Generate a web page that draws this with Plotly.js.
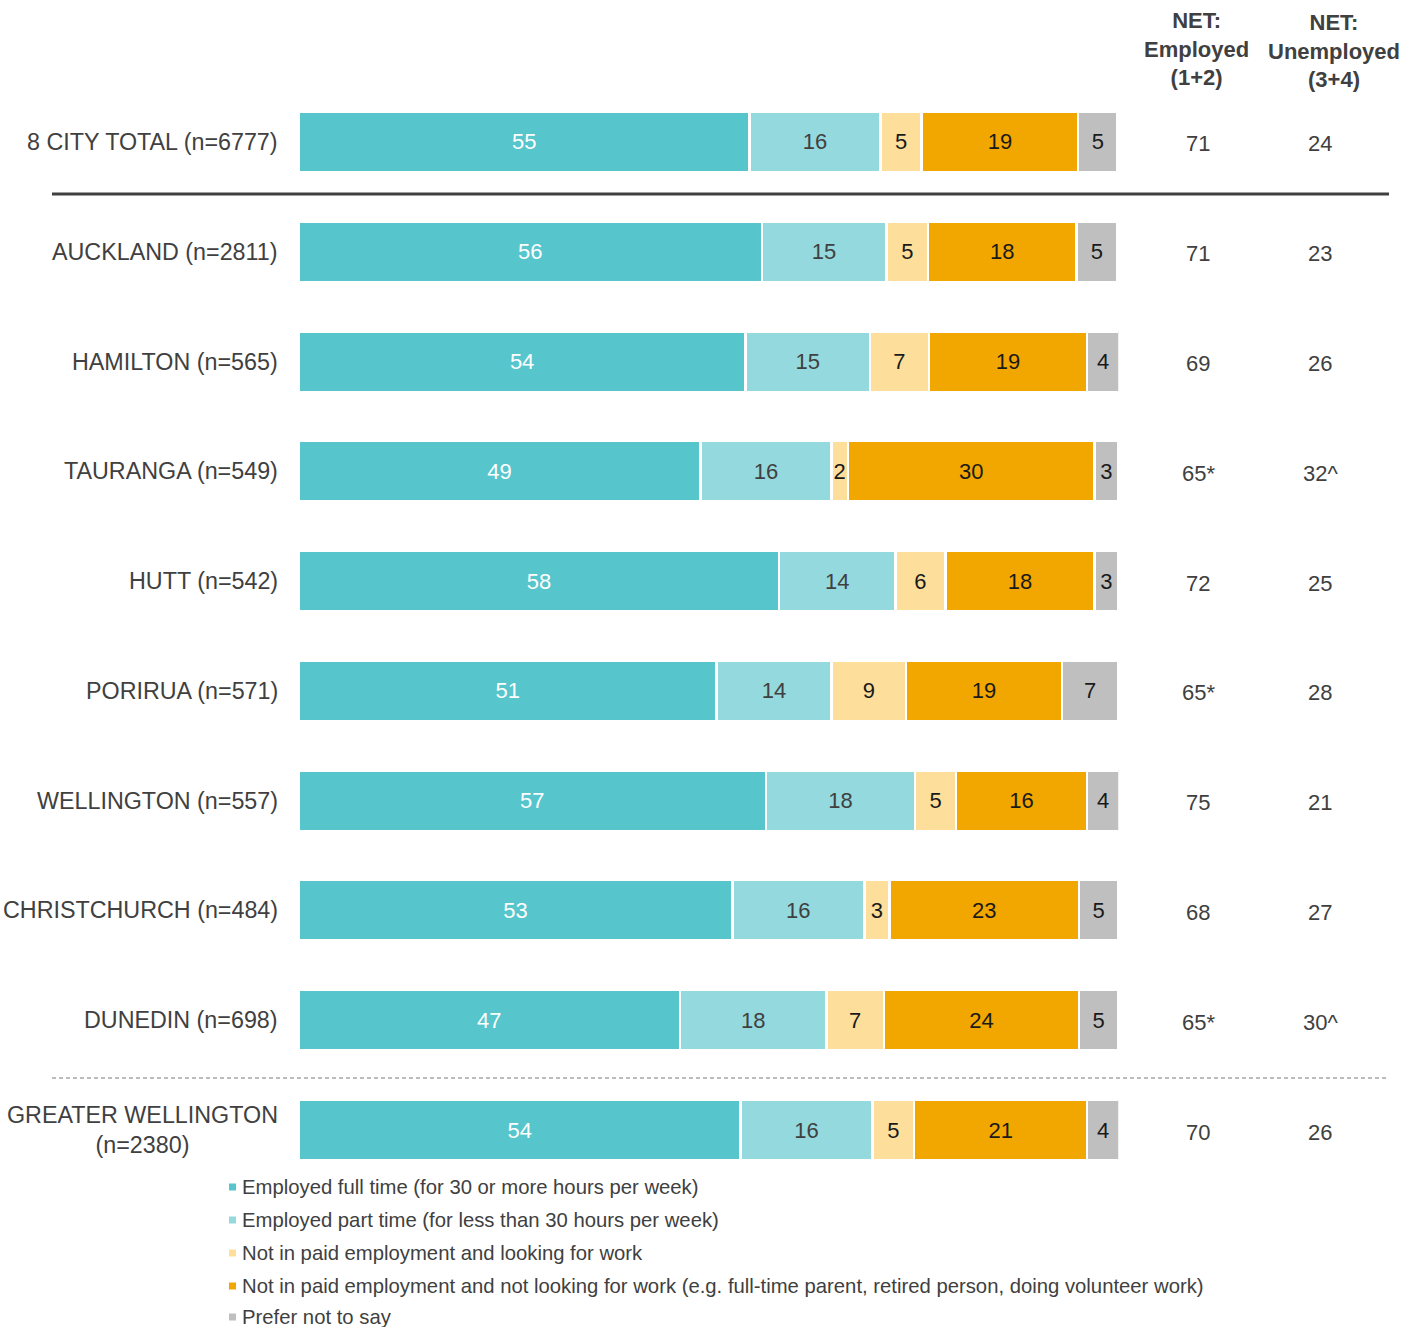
<!DOCTYPE html>
<html><head><meta charset="utf-8">
<script src="https://cdn.plot.ly/plotly-3.0.1.min.js"></script>
<style>html,body{margin:0;padding:0;background:#fff}</style>
</head><body><div id="chart" style="width:1419px;height:1327px"></div>
<script>
const categories = ['8 CITY TOTAL','AUCKLAND','HAMILTON','TAURANGA','HUTT','PORIRUA','WELLINGTON','CHRISTCHURCH','DUNEDIN','GREATER WELLINGTON'];
const categoryLabels = ['8 CITY TOTAL (n=6777)','AUCKLAND (n=2811)','HAMILTON (n=565)','TAURANGA (n=549)','HUTT (n=542)','PORIRUA (n=571)','WELLINGTON (n=557)','CHRISTCHURCH (n=484)','DUNEDIN (n=698)','GREATER WELLINGTON<br>(n=2380)'];
const seriesNames = ['Employed full time (for 30 or more hours per week)','Employed part time (for less than 30 hours per week)','Not in paid employment and looking for work','Not in paid employment and not looking for work (e.g. full-time parent, retired person, doing volunteer work)','Prefer not to say'];
const fullTime   = [55.0,56.5,54.5,49.0,58.6,51.0,57.0,52.9,46.5,53.9];
const partTime   = [16.0,15.2,15.2,16.0,14.2,14.0,18.2,16.1,17.9,16.1];
const looking    = [5.0,5.1,7.2,2.0,6.1,9.1,5.0,3.1,7.0,5.1];
const notLooking = [19.1,18.1,19.3,30.1,18.2,19.0,16.0,23.1,23.8,21.1];
const preferNot  = [4.8,5.0,3.9,2.9,2.9,6.9,3.9,4.8,4.8,3.9];
const fullTimeLabels   = [55,56,54,49,58,51,57,53,47,54];
const partTimeLabels   = [16,15,15,16,14,14,18,16,18,16];
const lookingLabels    = [5,5,7,2,6,9,5,3,7,5];
const notLookingLabels = [19,18,19,30,18,19,16,23,24,21];
const preferNotLabels  = [5,5,4,3,3,7,4,5,5,4];
const netEmployed   = ['71','71','69','65*','72','65*','75','68','65*','70'];
const netUnemployed = ['24','23','26','32^','25','28','21','27','30^','26'];
const netHeaders = ['NET:<br>Employed<br>(1+2)','NET:<br>Unemployed<br>(3+4)'];

const FONT = 'Liberation Sans, Arial, sans-serif';
const colors = ['#56C5CC','#94D9DE','#FDDF9B','#F1A600','#BFBFBF'];
const textColors = ['#ffffff','#404040','#1a1a1a','#1a1a1a','#1a1a1a'];
const seriesValues = [fullTime, partTime, looking, notLooking, preferNot];
const seriesLabels = [fullTimeLabels, partTimeLabels, lookingLabels, notLookingLabels, preferNotLabels];

const W = 1419, H = 1327;
const px = x => x / W;
const py = y => 1 - y / H;

const traces = seriesValues.map((vals, i) => ({
  type: 'bar', orientation: 'h', name: seriesNames[i],
  y: categories, x: vals,
  text: seriesLabels[i].map(String),
  texttemplate: '%{text}',
  textposition: 'inside', insidetextanchor: 'middle', constraintext: 'none',
  insidetextfont: {family: FONT, size: 22, color: textColors[i]},
  marker: {color: colors[i], line: {color: '#ffffff', width: 2.5}},
  hoverinfo: 'skip', showlegend: false
}));

const annotations = [];
categories.forEach((c, i) => {
  annotations.push({xref: 'paper', yref: 'y', x: px(280), y: c, xanchor: 'right', yanchor: 'middle', align: 'center',
    text: categoryLabels[i], showarrow: false, font: {family: FONT, size: 23.3, color: '#404040'}});
  annotations.push({xref: 'paper', yref: 'y', x: px(1198), y: c, xanchor: 'center', yanchor: 'middle',
    text: netEmployed[i], showarrow: false, font: {family: FONT, size: 22, color: '#404040'}, yshift: -2});
  annotations.push({xref: 'paper', yref: 'y', x: px(1320), y: c, xanchor: 'center', yanchor: 'middle',
    text: netUnemployed[i], showarrow: false, font: {family: FONT, size: 22, color: '#404040'}, yshift: -2});
});
annotations.push({xref: 'paper', yref: 'paper', x: px(1196), y: py(49), xanchor: 'center', yanchor: 'middle', align: 'center',
  text: '<b>' + netHeaders[0].split('<br>').join('</b><br><b>') + '</b>', showarrow: false, font: {family: FONT, size: 22, color: '#404040'}});
annotations.push({xref: 'paper', yref: 'paper', x: px(1334), y: py(51), xanchor: 'center', yanchor: 'middle', align: 'center',
  text: '<b>' + netHeaders[1].split('<br>').join('</b><br><b>') + '</b>', showarrow: false, font: {family: FONT, size: 22, color: '#404040'}});

const shapes = [
  {type: 'line', xref: 'paper', yref: 'paper', x0: px(52), x1: px(1389), y0: py(194), y1: py(194), line: {color: '#404040', width: 3}},
  {type: 'line', xref: 'paper', yref: 'paper', x0: px(52), x1: px(1389), y0: py(1078), y1: py(1078), line: {color: '#a6a6a6', width: 1.5, dash: '4px,3px'}}
];
const legendY = [1187, 1220, 1253, 1286, 1317];
seriesNames.forEach((n, i) => {
  shapes.push({type: 'rect', xref: 'paper', yref: 'paper', x0: px(229), x1: px(236), y0: py(legendY[i] + 3.5), y1: py(legendY[i] - 3.5),
    fillcolor: colors[i], line: {width: 0}});
  annotations.push({xref: 'paper', yref: 'paper', x: px(240), y: py(legendY[i]), xanchor: 'left', yanchor: 'middle',
    text: n, showarrow: false, font: {family: FONT, size: 20.3, color: '#404040'}});
});

const layout = {
  width: W, height: H,
  margin: {l: 0, r: 0, t: 0, b: 0, pad: 0},
  paper_bgcolor: '#ffffff', plot_bgcolor: '#ffffff',
  barmode: 'stack', bargap: 0.449,
  xaxis: {domain: [px(298.8), px(1118.3)], range: [0, 100], visible: false, fixedrange: true},
  yaxis: {domain: [py(1184.9), py(87.1)], type: 'category', range: [9.5, -0.5], visible: false, fixedrange: true},
  annotations: annotations, shapes: shapes,
  showlegend: false,
  font: {family: FONT}
};
Plotly.newPlot('chart', traces, layout, {displayModeBar: false, staticPlot: true});
</script></body></html>
